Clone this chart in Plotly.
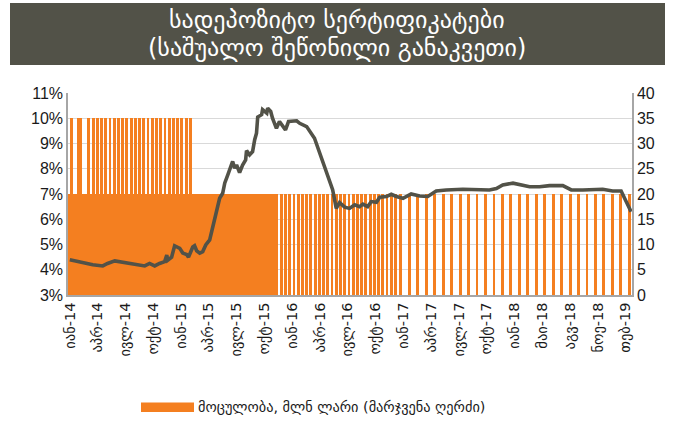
import plotly.graph_objects as go
import pandas as pd

# ---------------- data ----------------
title_line1 = "სადეპოზიტო სერტიფიკატები"
title_line2 = "(საშუალო შეწონილი განაკვეთი)"
legend_label = "მოცულობა, მლნ ლარი (მარჯვენა ღერძი)"

tick_dates = ["2014-01-20", "2014-04-22", "2014-07-23", "2014-10-23", "2015-01-23",
              "2015-04-25", "2015-07-26", "2015-10-26", "2016-01-26", "2016-04-27",
              "2016-07-28", "2016-10-28", "2017-01-28", "2017-04-30", "2017-07-31",
              "2017-10-31", "2018-01-31", "2018-05-03", "2018-08-03", "2018-11-03",
              "2019-02-03"]
tick_labels = ["იან-14", "აპრ-14", "ივლ-14", "ოქტ-14", "იან-15", "აპრ-15", "ივლ-15",
               "ოქტ-15", "იან-16", "აპრ-16", "ივლ-16", "ოქტ-16", "იან-17", "აპრ-17",
               "ივლ-17", "ოქტ-17", "იან-18", "მაი-18", "აგვ-18", "ნოე-18", "თებ-19"]

# auction dates: weekly, then bi-weekly, then four-weekly schedule
auction_weekly = pd.date_range("2014-01-20", periods=99, freq="7D")
volume_weekly = [20, 35, 20, 20, 35, 35, 20, 20, 20,
                 35, 20, 35, 20, 35, 20, 35, 20, 35, 20, 35, 20, 35, 20, 35, 20, 35, 20,
                 35, 20, 35, 20, 35, 20, 35, 20, 35, 20, 35, 20, 35, 20, 35, 20, 35, 20,
                 35, 20, 35, 20, 35, 20, 35, 20, 35, 20, 35, 20, 35,
                 20, 20, 20, 20, 20, 20, 20, 20, 20, 20, 20, 20, 20, 20, 20, 20, 20, 20,
                 20, 20, 20, 20, 20, 20, 20, 20, 20, 20, 20, 20, 20, 20, 20, 20, 20, 20,
                 20, 20, 20, 20, 20]
auction_biweekly = pd.date_range("2015-12-21", periods=28, freq="14D")
volume_biweekly = [20, 20, 20, 20, 20, 20, 20, 20, 20, 20, 20, 20, 20, 20,
                   20, 20, 20, 20, 20, 20, 20, 20, 20, 20, 20, 20, 20, 20]
auction_4weekly = pd.date_range("2017-01-20", periods=28, freq="28D")
volume_4weekly = [20, 20, 20, 20, 20, 20, 20, 20, 20, 20, 20, 20, 20, 20,
                  20, 20, 20, 20, 20, 20, 20, 20, 20, 20, 20, 20, 20, 20]

rate_dates = ["2014-01-20", "2014-02-22", "2014-04-06", "2014-05-09", "2014-05-25", "2014-06-18",
              "2014-07-27", "2014-09-08", "2014-09-25", "2014-10-11", "2014-10-28", "2014-11-13",
              "2014-11-30", "2014-12-07", "2014-12-10", "2014-12-23", "2015-01-02", "2015-01-19",
              "2015-01-29", "2015-02-11", "2015-02-17", "2015-03-03", "2015-03-09", "2015-03-16",
              "2015-03-26", "2015-04-05", "2015-04-15", "2015-04-28", "2015-05-08", "2015-05-21",
              "2015-05-31", "2015-06-10", "2015-06-17", "2015-06-27", "2015-07-03", "2015-07-13",
              "2015-07-20", "2015-07-26", "2015-08-05", "2015-08-15", "2015-08-25", "2015-08-28",
              "2015-09-07", "2015-09-17", "2015-09-24", "2015-09-30", "2015-10-04", "2015-10-17",
              "2015-10-20", "2015-11-03", "2015-11-06", "2015-11-16", "2015-11-22", "2015-12-05",
              "2015-12-15", "2015-12-25", "2016-01-04", "2016-01-14", "2016-02-10", "2016-02-20",
              "2016-03-14", "2016-04-09", "2016-05-03", "2016-05-29", "2016-06-08", "2016-06-20",
              "2016-07-01", "2016-07-18", "2016-08-03", "2016-08-20", "2016-09-05", "2016-09-16",
              "2016-10-02", "2016-10-14", "2016-10-31", "2016-11-11", "2016-12-03", "2016-12-19",
              "2017-01-05", "2017-01-27", "2017-02-23", "2017-03-23", "2017-04-19", "2017-05-17",
              "2017-06-19", "2017-08-13", "2017-10-07", "2017-11-09", "2017-12-02", "2017-12-23",
              "2018-01-26", "2018-02-28", "2018-03-22", "2018-04-24", "2018-05-27", "2018-07-10",
              "2018-08-07", "2018-09-14", "2018-11-19", "2018-12-22", "2019-01-19", "2019-02-21"]
rate_values = [4.40, 4.30, 4.20, 4.15, 4.25, 4.35, 4.26, 4.17, 4.15, 4.25, 4.15, 4.25,
               4.32, 4.58, 4.38, 4.50, 4.95, 4.85, 4.66, 4.60, 4.50, 4.90, 4.95, 4.75,
               4.66, 4.72, 4.98, 5.18, 5.70, 6.37, 6.83, 7.03, 7.44, 7.76, 7.96, 8.29,
               8.02, 8.15, 7.85, 8.15, 8.35, 8.72, 8.55, 8.68, 9.15, 9.41, 10.05, 10.14,
               10.34, 10.20, 10.40, 10.27, 10.00, 9.60, 9.87, 9.73, 9.54, 9.87, 9.90, 9.80,
               9.67, 9.21, 8.35, 7.43, 7.17, 6.43, 6.66, 6.48, 6.43, 6.57, 6.50, 6.60,
               6.50, 6.70, 6.67, 6.87, 6.90, 6.99, 6.90, 6.83, 7.00, 6.92, 6.90, 7.12,
               7.16, 7.19, 7.16, 7.16, 7.22, 7.36, 7.43, 7.36, 7.29, 7.29, 7.33, 7.33,
               7.16, 7.16, 7.19, 7.12, 7.12, 6.30]

# ---------------- styling ----------------
W, H = 674, 421
ML, MR, MT, MB = 68, 42, 93, 126
ORANGE = "rgb(244,127,32)"
DARK = "rgb(82,82,72)"
GRID = "rgb(217,217,217)"
AXIS = "rgb(166,166,166)"
TXT = "#1a1a1a"
FONT = "Liberation Sans, DejaVu Sans, Arial, sans-serif"
DAY_MS = 86400000
BAR_W = 9.5 * DAY_MS

pw, ph = W - ML - MR, H - MT - MB
def px_x(px):
    return (px - ML) / pw
def px_y(py):
    return (H - MB - py) / ph

bar_x = list(auction_weekly) + list(auction_biweekly) + list(auction_4weekly)
bar_y = volume_weekly + volume_biweekly + volume_4weekly

fig = go.Figure()
fig.add_trace(go.Bar(
    x=bar_x, y=bar_y, width=[BAR_W] * len(bar_x),
    marker=dict(color=ORANGE, line=dict(width=0)),
    yaxis="y", showlegend=False, name=legend_label,
))
fig.add_trace(go.Scatter(
    x=pd.to_datetime(rate_dates), y=rate_values, mode="lines",
    line=dict(color=DARK, width=3.6), yaxis="y2", showlegend=False,
))

fig.update_layout(
    width=W, height=H,
    margin=dict(l=ML, r=MR, t=MT, b=MB, pad=0, autoexpand=False),
    paper_bgcolor="white", plot_bgcolor="white",
    font=dict(family=FONT, color=TXT),
    bargap=0,
    xaxis=dict(
        type="date", range=["2014-01-14", "2019-02-24"], automargin=False,
        tickmode="array", tickvals=pd.to_datetime(tick_dates), ticktext=tick_labels,
        tickangle=-90, tickfont=dict(size=14.5, family="DejaVu Sans", color=TXT),
        showgrid=False, showline=True, linecolor=AXIS, linewidth=1.5,
        ticks="", ticklen=4, zeroline=False,
    ),
    yaxis=dict(
        side="right", range=[0, 40], dtick=5, tick0=0, automargin=False,
        showgrid=True, gridcolor=GRID, gridwidth=1.3,
        showline=True, linecolor=AXIS, linewidth=1.5,
        tickfont=dict(size=16, color=TXT), ticks="", zeroline=False,
    ),
    yaxis2=dict(
        overlaying="y", side="left", range=[3, 11], dtick=1, tick0=3, automargin=False,
        ticksuffix="%", showgrid=False,
        showline=True, linecolor=AXIS, linewidth=1.5,
        tickfont=dict(size=16, color=TXT), ticks="", zeroline=False,
    ),
    shapes=[
        dict(type="rect", xref="paper", yref="paper",
             x0=px_x(10), x1=px_x(665), y0=px_y(65), y1=px_y(3),
             fillcolor=DARK, line=dict(width=0), layer="below"),
        dict(type="rect", xref="paper", yref="paper",
             x0=px_x(141), x1=px_x(194), y0=px_y(412), y1=px_y(402.5),
             fillcolor=ORANGE, line=dict(width=0)),
    ],
    annotations=[
        dict(text=title_line1, xref="paper", yref="paper",
             x=px_x(337), y=px_y(20), xanchor="center", yanchor="middle",
             showarrow=False, font=dict(size=24, color="white", family="DejaVu Sans")),
        dict(text=title_line2, xref="paper", yref="paper",
             x=px_x(337), y=px_y(48), xanchor="center", yanchor="middle",
             showarrow=False, font=dict(size=24, color="white", family="DejaVu Sans")),
        dict(text=legend_label, xref="paper", yref="paper",
             x=px_x(196), y=px_y(407), xanchor="left", yanchor="middle",
             showarrow=False, font=dict(size=14.3, color=TXT, family="DejaVu Sans")),
    ],
)

fig.write_html(
    "out.html",
    config={"displayModeBar": False},
    post_script=["document.body.style.margin='0';document.body.style.padding='0';"],
)
